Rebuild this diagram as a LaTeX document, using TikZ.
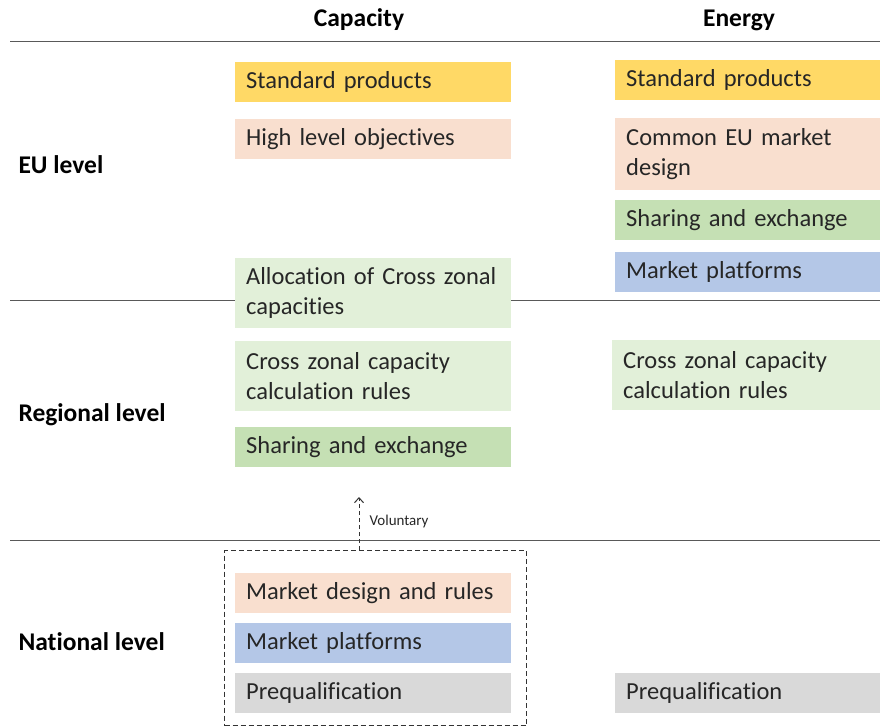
\documentclass[tikz,border=0pt]{standalone}
\usepackage{fontspec}
\setmainfont{Carlito}[Ligatures=NoCommon]
\usetikzlibrary{arrows.meta}
\definecolor{cYel}{HTML}{FFD966}
\definecolor{cPink}{HTML}{F9DFCF}
\definecolor{cLGreen}{HTML}{E2F0D9}
\definecolor{cDGreen}{HTML}{C5E0B4}
\definecolor{cBlue}{HTML}{B4C7E7}
\definecolor{cGray}{HTML}{D9D9D9}
\definecolor{cLine}{HTML}{595959}
\tikzset{
  box/.style={rectangle, anchor=north west, inner xsep=11pt, inner ysep=0pt, align=left,
    font=\fontsize{24.5}{30}\selectfont, text=black!85},
  capbox/.style={box, text width=254pt},
  enbox/.style={box, text width=243pt},
  hdr/.style={font=\fontsize{25.5}{28}\selectfont\bfseries, text=black},
  rowlab/.style={anchor=west, font=\fontsize{25.5}{28}\selectfont\bfseries, text=black},
  sep/.style={draw=cLine, line width=0.9pt},
}
\begin{document}
\begin{tikzpicture}[x=1pt,y=-1pt]
\useasboundingbox (0,0) rectangle (880,727);
% separators
\coordinate (l1a) at (10,41); \coordinate (l1b) at (880,41);
\coordinate (l2a) at (10,300); \coordinate (l2b) at (880,300);
\coordinate (l3a) at (10,540); \coordinate (l3b) at (880,540);
\draw[sep] (l1a) -- (l1b);
\draw[sep] (l2a) -- (l2b);
\draw[sep] (l3a) -- (l3b);
% headers
\node[hdr] (hcap) at (359,20) {Capacity};
\node[hdr] (hen) at (739,20) {Energy};
% row labels
\node[rowlab] (reu) at (15,165) {EU level};
\node[rowlab] (rreg) at (15,415) {Regional level};
\node[rowlab] (rnat) at (15,642) {National level};
% capacity column
\node[capbox, fill=cYel, minimum height=40pt] (c1) at (235,62) {Standard products};
\node[capbox, fill=cPink, minimum height=40pt] (c2) at (235,119) {High level objectives};
\node[capbox, fill=cLGreen, minimum height=70pt] (c3) at (235,258) {Allocation of Cross zonal\\capacities};
\node[capbox, fill=cLGreen, minimum height=70pt] (c4) at (235,341) {Cross zonal capacity\\calculation rules};
\node[capbox, fill=cDGreen, minimum height=40pt] (c5) at (235,427) {Sharing and exchange};
\node[capbox, fill=cPink, minimum height=40pt] (c6) at (235,573) {Market design and rules};
\node[capbox, fill=cBlue, minimum height=40pt] (c7) at (235,623) {Market platforms};
\node[capbox, fill=cGray, minimum height=40pt] (c8) at (235,673) {Prequalification};
% energy column
\node[enbox, fill=cYel, minimum height=40pt] (e1) at (615,60) {Standard products};
\node[enbox, fill=cPink, minimum height=72pt] (e2) at (615,118) {Common EU market\\design};
\node[enbox, fill=cDGreen, minimum height=40pt] (e3) at (615,200) {Sharing and exchange};
\node[enbox, fill=cBlue, minimum height=40pt] (e4) at (615,252) {Market platforms};
\node[box, text width=246pt, fill=cLGreen, minimum height=70pt] (e5) at (612,340) {Cross zonal capacity\\calculation rules};
\node[enbox, fill=cGray, minimum height=40pt] (e6) at (615,673) {Prequalification};
% dashed group
\node[draw=black!80, line width=1.1pt, dash pattern=on 5pt off 3pt, anchor=north west,
      minimum width=302pt, minimum height=175pt, inner sep=0pt] (dbox) at (224,550) {};
\coordinate (vtip) at (359,497);
\draw[draw=black!80, line width=1pt, dash pattern=on 4pt off 3pt, -{Straight Barb[length=5pt,width=9pt]}]
  (vtip |- dbox.north) -- (vtip);
\node[anchor=west, font=\fontsize{15}{17}\selectfont, text=black!85] (vol) at (366,521) {Voluntary};
\end{tikzpicture}
\end{document}
